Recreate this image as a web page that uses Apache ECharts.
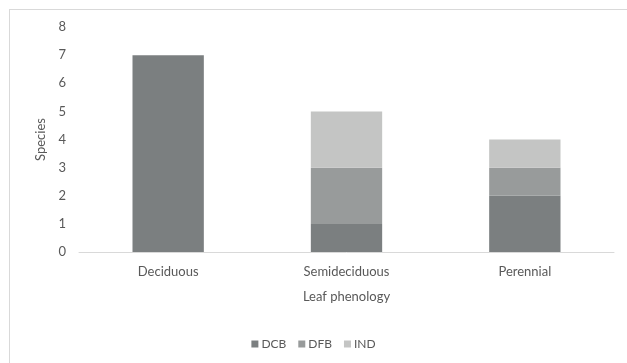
<!DOCTYPE html>
<html>
<head>
<meta charset="utf-8">
<script src="https://cdn.jsdelivr.net/npm/echarts@6/dist/echarts.min.js"></script>
<style>
  html, body { margin: 0; padding: 0; background: #fff; }
  #frame { position: absolute; left: 9px; top: 9px; width: 640px; height: 380px; border: 1px solid #d9d9d9; box-sizing: border-box; }
  #chart { position: absolute; left: 0; top: 0; width: 627px; height: 363px; }
</style>
</head>
<body>
<div id="frame"></div>
<div id="chart"></div>
<script>
// Leaf phenology categories and species counts per group
const categories = ['Deciduous', 'Semideciduous', 'Perennial'];
const dcb = [7, 1, 2];
const dfb = [0, 2, 1];
const ind = [0, 2, 1];
const yTicks = [0, 1, 2, 3, 4, 5, 6, 7, 8];

const textColor = '#595959';
const font = 'Lato, "Open Sans", sans-serif';

const chart = echarts.init(document.getElementById('chart'), null, { renderer: 'canvas' });

function stackSeries(name, data, color) {
  return {
    name: name,
    type: 'bar',
    stack: 'total',
    data: data,
    barWidth: '40%',
    itemStyle: { color: color },
    emphasis: { disabled: true }
  };
}

chart.setOption({
  animation: false,
  textStyle: { fontFamily: font },
  grid: { left: 79, right: 13, top: 27, bottom: 111, containLabel: false },
  legend: {
    bottom: 8,
    left: 'center',
    itemWidth: 7,
    itemHeight: 7,
    itemGap: 12,
    icon: 'rect',
    textStyle: { color: textColor, fontSize: 12, fontFamily: font, padding: [0, 0, 0, -2] },
    data: ['DCB', 'DFB', 'IND']
  },
  xAxis: {
    type: 'category',
    data: categories,
    name: 'Leaf phenology',
    nameLocation: 'middle',
    nameGap: 38,
    nameTextStyle: { color: textColor, fontSize: 13, fontFamily: font },
    axisLine: { lineStyle: { color: '#d9d9d9', width: 1 } },
    axisTick: { show: false },
    axisLabel: { color: textColor, fontSize: 13, margin: 13, fontFamily: font }
  },
  yAxis: {
    type: 'value',
    min: yTicks[0],
    max: yTicks[yTicks.length - 1],
    interval: 1,
    name: 'Species',
    nameLocation: 'middle',
    nameGap: 30,
    nameRotate: 90,
    nameTextStyle: { color: textColor, fontSize: 13, fontFamily: font },
    axisLine: { show: false },
    axisTick: { show: false },
    splitLine: { show: false },
    axisLabel: { color: textColor, fontSize: 13, margin: 13, fontFamily: font }
  },
  series: [
    stackSeries('DCB', dcb, '#7b7f80'),
    stackSeries('DFB', dfb, '#989b9b'),
    stackSeries('IND', ind, '#c4c5c4')
  ]
});
</script>
</body>
</html>
